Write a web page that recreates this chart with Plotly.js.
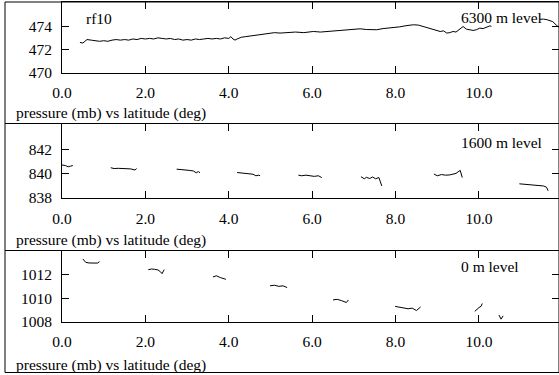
<!DOCTYPE html>
<html>
<head>
<meta charset="utf-8">
<script src="https://cdn.plot.ly/plotly-3.0.1.min.js"></script>
<style>html,body{margin:0;padding:0;background:#fff;}#chart{width:559px;height:375px;}</style>
</head>
<body>
<div id="chart"></div>
<script>
// ---- Data (latitude in deg, pressure in mb); null = data gap ----
const lat6300 = [0.43,0.5,0.55,0.6,0.7,0.8,0.9,1.0,1.1,1.2,1.3,1.4,1.5,1.6,1.7,1.8,1.9,2.0,2.1,2.2,2.3,2.4,2.5,2.6,2.7,2.8,2.9,3.0,3.1,3.2,3.3,3.4,3.5,3.6,3.7,3.8,3.9,4.0,4.05,4.1,4.15,4.2,4.3,4.4,4.5,4.6,4.7,4.8,4.9,5.0,5.1,5.23,5.4,5.6,5.8,6.03,6.2,6.4,6.6,6.83,7.0,7.15,7.3,7.55,7.7,7.85,7.99,8.1,8.25,8.43,8.55,8.67,8.8,8.9,9.07,9.15,9.23,9.3,9.38,9.45,9.52,9.62,9.7,9.78,9.86,9.94,10.02,10.1,10.18,10.26,10.3,10.6,11.46,11.55,11.63,11.7,11.77,11.87,11.95];
const p6300 = [472.6,472.55,472.7,472.85,472.8,472.75,472.7,472.75,472.7,472.8,472.85,472.8,472.85,472.8,472.9,472.85,472.95,472.9,472.95,472.9,473.0,472.95,472.9,472.95,472.85,472.9,472.8,472.85,472.8,472.9,472.85,472.9,472.95,472.9,472.95,472.9,473.0,472.95,473.1,472.9,472.8,472.9,473.05,473.1,473.15,473.2,473.25,473.35,473.4,473.4,473.45,473.41,473.45,473.5,473.45,473.55,473.5,473.55,473.6,473.64,473.7,473.78,473.72,473.7,473.8,473.85,473.9,473.95,474.05,474.13,474.1,473.98,473.85,473.7,473.55,473.6,473.41,473.45,473.55,473.5,473.7,473.98,473.75,473.7,473.64,473.7,473.84,473.8,473.9,474.03,474.0,null,474.6,474.62,474.57,474.5,474.4,474.05,473.85];

const lat1600 = [-0.05,0.0,0.08,0.15,0.2,0.26,0.4,
  1.17,1.25,1.35,1.45,1.55,1.65,1.75,1.79,1.9,
  2.75,2.85,2.95,3.05,3.15,3.22,3.27,3.31,3.5,
  4.2,4.3,4.4,4.5,4.58,4.65,4.72,4.75,5.0,
  5.67,5.75,5.85,5.95,6.05,6.15,6.23,6.5,
  7.17,7.25,7.3,7.38,7.45,7.52,7.6,7.67,8.0,
  8.92,9.0,9.1,9.2,9.3,9.4,9.45,9.55,9.6,10.0,
  10.97,11.1,11.2,11.3,11.4,11.5,11.55,11.62,11.66];
const p1600 = [840.7,840.75,840.7,840.6,840.65,840.7,null,
  840.52,840.45,840.47,840.45,840.48,840.42,840.33,840.45,null,
  840.4,840.38,840.36,840.3,840.25,840.1,840.2,840.1,null,
  840.12,840.08,840.05,839.95,839.98,839.85,839.9,839.85,null,
  839.9,839.85,839.9,839.85,839.8,839.85,839.7,null,
  839.77,839.6,839.72,839.62,839.75,839.6,839.7,839.0,null,
  840.0,839.85,839.95,839.9,839.92,840.0,840.05,840.3,839.7,null,
  839.18,839.15,839.1,839.12,839.08,839.05,839.0,838.9,838.6];

const lat0 = [0.5,0.57,0.65,0.75,0.85,0.9,1.2,
  2.07,2.15,2.22,2.3,2.36,2.4,2.45,2.8,
  3.62,3.7,3.8,3.88,3.93,4.3,
  4.99,5.1,5.2,5.3,5.4,5.8,
  6.5,6.6,6.7,6.75,6.82,6.87,7.2,
  7.99,8.1,8.2,8.3,8.4,8.5,8.6,9.5,
  9.9,9.95,10.0,10.05,10.08,10.3,
  10.48,10.53,10.58];
const p0 = [1013.33,1013.04,1012.99,1013.0,1012.98,1013.1,null,
  1012.42,1012.48,1012.45,1012.4,1012.25,1012.08,1012.42,null,
  1011.8,1011.9,1011.75,1011.65,1011.6,null,
  1011.05,1011.1,1011.0,1011.05,1010.9,null,
  1009.85,1009.9,1009.8,1009.75,1009.63,1009.85,null,
  1009.3,1009.25,1009.2,1009.1,1009.15,1008.95,1009.25,null,
  1008.88,1009.05,1009.2,1009.3,1009.55,null,
  1008.57,1008.22,1008.5];

const xTickVals = [0,2,4,6,8,10];
const yTicks1 = [470,472,474];
const yTicks2 = [838,840,842];
const yTicks3 = [1008,1010,1012];
const panelLabels = ['6300 m level','1600 m level','0 m level'];
const xTitle = 'pressure (mb) vs latitude (deg)';
const flightId = 'rf10';

// ---- Layout ----
const W = 559, H = 375;
const FONT = {family:'Liberation Serif', size:15.5, color:'#000'};
const px = v => v / W;
const py = v => 1 - v / H;
const left = 62;
const panels = [{top:2, bottom:72.5, yr:[470,476.1], yt:yTicks1},
                {top:123.5, bottom:198, yr:[838,844.2], yt:yTicks2},
                {top:250.5, bottom:321.7, yr:[1008,1014.05], yt:yTicks3}];

const traces = [[lat6300,p6300],[lat1600,p1600],[lat0,p0]].map((d,i)=>({
  x:d[0], y:d[1], type:'scatter', mode:'lines', connectgaps:false,
  line:{color:'#000', width:1}, xaxis: i===0?'x':'x'+(i+1), yaxis: i===0?'y':'y'+(i+1),
  hoverinfo:'skip', showlegend:false
}));

const layout = {
  width:W, height:H, margin:{l:0,r:0,t:0,b:0},
  paper_bgcolor:'#fff', plot_bgcolor:'#fff', font:FONT, showlegend:false,
  annotations:[], shapes:[]
};
panels.forEach((p,i)=>{
  const xn = i===0?'xaxis':'xaxis'+(i+1);
  const yn = i===0?'yaxis':'yaxis'+(i+1);
  const ya = i===0?'y':'y'+(i+1);
  const xa = i===0?'x':'x'+(i+1);
  layout[xn] = {domain:[px(left),1], range:[0,11.92], anchor:ya, tickvals:xTickVals,
    tickformat:'.1f', ticks:'inside', ticklen:7, tickcolor:'#000', showline:true, linecolor:'#000',
    linewidth:1, mirror:'ticks', showgrid:false, zeroline:false, tickfont:FONT, ticklabelstandoff:6};
  layout[yn] = {domain:[py(p.bottom),py(p.top)], range:p.yr, anchor:xa, tickvals:p.yt,
    ticks:'inside', ticklen:7, tickcolor:'#000', showline:true, linecolor:'#000', linewidth:1,
    mirror:'ticks', showgrid:false, zeroline:false, tickfont:FONT, ticklabelstandoff:6};
  const titleY = [113,240,365][i];
  layout.annotations.push({xref:'paper', yref:'paper', x:px(14), y:py(titleY), xanchor:'left',
    yanchor:'middle', text:xTitle, showarrow:false, font:FONT});
  const labY = [17,142,266][i];
  layout.annotations.push({xref:'paper', yref:'paper', x:px(459), y:py(labY), xanchor:'left',
    yanchor:'middle', text:panelLabels[i], showarrow:false, font:FONT});
});
layout.annotations.push({xref:'paper', yref:'paper', x:px(84), y:py(18), xanchor:'left',
  yanchor:'middle', text:flightId, showarrow:false, font:FONT});
// outer frame and panel separators
layout.shapes.push({type:'rect', xref:'paper', yref:'paper', x0:px(5), x1:1, y0:py(372.5), y1:py(2),
  line:{color:'#000', width:1}, fillcolor:'rgba(0,0,0,0)'});
[123.5,250.5].forEach(yv=>layout.shapes.push({type:'line', xref:'paper', yref:'paper',
  x0:px(5), x1:1, y0:py(yv), y1:py(yv), line:{color:'#000', width:1}}));

Plotly.newPlot('chart', traces, layout, {staticPlot:true, displayModeBar:false});
</script>
</body>
</html>
